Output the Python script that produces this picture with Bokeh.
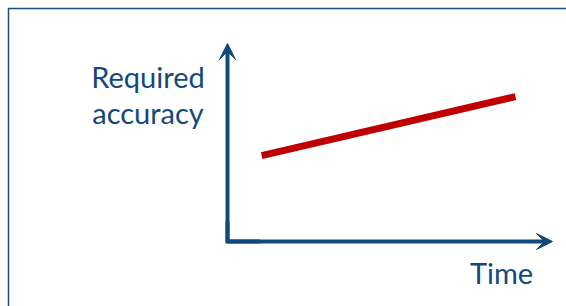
from bokeh.plotting import figure
from bokeh.models import Range1d, Arrow, VeeHead, Label
from bokeh.embed import file_html
from bokeh.resources import INLINE

# conceptual data
time = [1.05, 8.86]
required_accuracy = [4.34, 7.32]
axis_max_x = 10
axis_max_y = 10
y_label_lines = ["Required", "accuracy"]
x_label = "Time"

BLUE = "#12497B"
BORDER = "#1F4E79"
RED = "#C00000"
FONT = "Lato"

X0, X1 = -6.9846, 10.4308
Y0, Y1 = -3.2828, 12.1717
BX, BY = -6.7385, 11.7677  # frame box corner

p = figure(width=566, height=306, output_backend="svg", toolbar_location=None,
           x_range=Range1d(X0, X1), y_range=Range1d(Y0, Y1),
           min_border=0, min_border_left=0, min_border_right=0,
           min_border_top=0, min_border_bottom=0)
p.axis.visible = False
p.grid.visible = False
p.outline_line_color = None
p.background_fill_color = "white"
p.border_fill_color = "white"

# frame border (top and left)
p.line([BX, BX, X1 + 1], [Y0 - 1, BY, BY], line_color=BORDER, line_width=1.5,
       line_join="miter")

# red trend line
p.line(time, required_accuracy, line_color=RED, line_width=7, line_cap="butt")

# axes with arrows
p.line([0, 0, 1], [1, 0, 0], line_color=BLUE, line_width=4, line_join="miter")
p.add_layout(Arrow(x_start=0, y_start=0, x_end=0, y_end=axis_max_y,
                   line_color=BLUE, line_width=4,
                   end=VeeHead(size=16, fill_color=BLUE, line_color=BLUE, line_width=1)))
p.add_layout(Arrow(x_start=0, y_start=0, x_end=axis_max_x, y_end=0,
                   line_color=BLUE, line_width=4,
                   end=VeeHead(size=16, fill_color=BLUE, line_color=BLUE, line_width=1)))

# labels
for txt, ys in zip(y_label_lines, [230, 194]):
    p.add_layout(Label(x=147.5, y=ys, x_units="screen", y_units="screen", text=txt,
                       text_font=FONT, text_font_size="29px", text_color=BLUE,
                       text_align="center", text_baseline="alphabetic"))
p.add_layout(Label(x=501, y=34, x_units="screen", y_units="screen", text=x_label,
                   text_font=FONT, text_font_size="29px", text_color=BLUE,
                   text_align="center", text_baseline="alphabetic"))

open("out.html", "w").write(file_html(p, INLINE))
